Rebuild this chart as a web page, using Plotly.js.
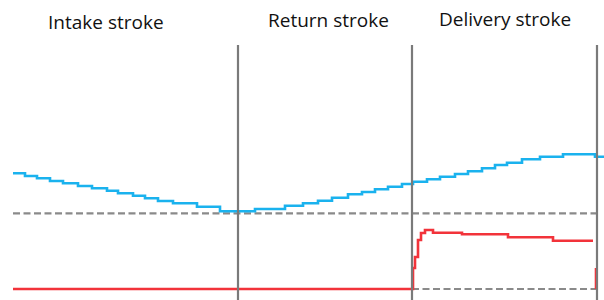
<!DOCTYPE html>
<html>
<head>
<meta charset="utf-8">
<script src="https://cdn.plot.ly/plotly-3.0.1.min.js"></script>
<style>
  html, body { margin: 0; padding: 0; background: #fff; }
  #chart { width: 604px; height: 300px; }
</style>
</head>
<body>
<div id="chart"></div>
<script>
// Stroke phases
const strokeLabels = ["Intake stroke", "Return stroke", "Delivery stroke"];
const labelX = [106, 328, 505];
const labelY = [278, 280, 281];
const strokeBoundaries = [238, 412, 597];
const boundaryTop = 255;

// Blue trace (stepped)
const blueX = [13, 25, 37, 50, 63, 78, 92, 107, 118, 133, 145, 158, 173, 197, 220,
               255, 285, 303, 318, 332, 348, 362, 375, 388, 402,
               413, 427, 440, 455, 468, 482, 495, 507, 522, 540, 563, 595, 604];
const blueY = [126.7, 124, 121.7, 119, 116.7, 114, 111.7, 109.3, 106.7, 104.3, 101.7, 99, 96.7, 93.3, 88.7,
               91, 94.3, 96.7, 99.3, 102.3, 105.7, 108, 110.7, 113.3, 116,
               118.3, 120.7, 123.3, 126, 128.7, 131.7, 135, 137.3, 140.7, 143.3, 145.7, 143.3, 143.3];

// Red trace (stepped)
const redX = [13, 413, 415, 418, 421, 425, 433, 462, 508, 553, 593, null, 596, 596];
const redY = [11, 32, 43, 60, 67, 70, 67.3, 65.7, 62.7, 59.3, 59.3, null, 32, 11];

// Reference levels (dashed)
const upperLevel = 86.7;
const upperLevelX = [13, 598];
const lowerLevel = 11;
const lowerLevelX = [412, 598];

const traces = [
  {
    x: upperLevelX, y: [upperLevel, upperLevel], mode: 'lines',
    line: { color: '#8a8a8a', width: 2.2, dash: '7px,3.5px' }, hoverinfo: 'skip'
  },
  {
    x: lowerLevelX, y: [lowerLevel, lowerLevel], mode: 'lines',
    line: { color: '#8a8a8a', width: 2.2, dash: '7px,3.5px' }, hoverinfo: 'skip'
  },
  {
    x: blueX, y: blueY, mode: 'lines',
    line: { color: '#1ab2ee', width: 2.6, shape: 'hv' }
  },
  {
    x: redX, y: redY, mode: 'lines', connectgaps: false,
    line: { color: '#f2333a', width: 2.6, shape: 'hv' }
  }
];

const shapes = strokeBoundaries.map(b => ({
  type: 'line', xref: 'x', yref: 'y',
  x0: b, x1: b, y0: -5, y1: boundaryTop,
  line: { color: '#7a7a7a', width: 2.2 }, layer: 'above'
}));

const annotations = strokeLabels.map((t, i) => ({
  text: t, x: labelX[i], y: labelY[i], xref: 'x', yref: 'y',
  showarrow: false, xanchor: 'center', yanchor: 'middle',
  font: { family: 'Open Sans, sans-serif', size: 19, color: '#111' }
}));

const layout = {
  width: 604, height: 300,
  margin: { l: 0, r: 0, t: 0, b: 0 },
  paper_bgcolor: '#fff', plot_bgcolor: '#fff',
  showlegend: false,
  xaxis: { range: [0, 604], visible: false, fixedrange: true },
  yaxis: { range: [0, 300], visible: false, fixedrange: true },
  shapes: shapes,
  annotations: annotations
};

Plotly.newPlot('chart', traces, layout, { displayModeBar: false, staticPlot: true });
</script>
</body>
</html>
